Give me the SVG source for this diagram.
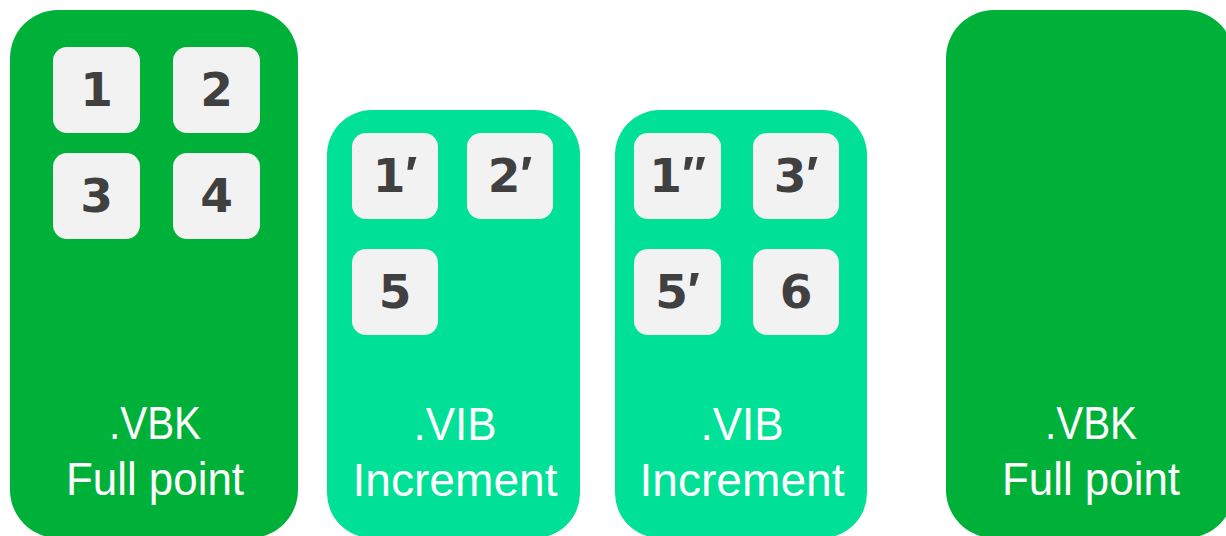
<svg xmlns="http://www.w3.org/2000/svg" width="1226" height="536" viewBox="0 0 1226 536">
<style>
.full{fill:#00B139}
.inc{fill:#00E096}
.cell{fill:#F2F2F2}
.num{font-family:"DejaVu Sans","Liberation Sans",sans-serif;font-weight:bold;font-size:47px;fill:#404040;text-anchor:middle}
.pr{font-family:"Liberation Sans",Arial,sans-serif;font-size:50px}
.lbl{font-family:"Liberation Sans",Arial,sans-serif;font-size:47px;fill:#FFFFFF;text-anchor:middle}
</style>
<rect width="1226" height="536" fill="#FFFFFF"/>
<g id="vbk1">
<rect class="full" x="10" y="10" width="288" height="528" rx="48" ry="48"/>
<rect class="cell" x="53" y="47" width="87" height="86" rx="14"/>
<text class="num" x="96.5" y="106">1</text>
<rect class="cell" x="173" y="47" width="87" height="86" rx="14"/>
<text class="num" x="216.5" y="106">2</text>
<rect class="cell" x="53" y="153" width="87" height="86" rx="14"/>
<text class="num" x="96.5" y="212">3</text>
<rect class="cell" x="173" y="153" width="87" height="86" rx="14"/>
<text class="num" x="216.5" y="212">4</text>
<text class="lbl" x="155" y="439" textLength="92" lengthAdjust="spacingAndGlyphs">.VBK</text>
<text class="lbl" x="155" y="495" textLength="178" lengthAdjust="spacingAndGlyphs">Full point</text>
</g>
<g id="vib1">
<rect class="inc" x="327" y="110" width="253" height="428" rx="45" ry="45"/>
<rect class="cell" x="352" y="133" width="86" height="86" rx="14"/>
<text class="num" x="395" y="192">1<tspan class="pr">′</tspan></text>
<rect class="cell" x="467" y="133" width="86" height="86" rx="14"/>
<text class="num" x="510" y="192">2<tspan class="pr">′</tspan></text>
<rect class="cell" x="352" y="249" width="86" height="86" rx="14"/>
<text class="num" x="395" y="308">5</text>
<text class="lbl" x="455" y="440" textLength="83" lengthAdjust="spacingAndGlyphs">.VIB</text>
<text class="lbl" x="455" y="496" textLength="205" lengthAdjust="spacingAndGlyphs">Increment</text>
</g>
<g id="vib2">
<rect class="inc" x="615" y="110" width="252" height="428" rx="45" ry="45"/>
<rect class="cell" x="634" y="133" width="87" height="86" rx="14"/>
<text class="num" x="677.5" y="192">1<tspan class="pr">″</tspan></text>
<rect class="cell" x="753" y="133" width="86" height="86" rx="14"/>
<text class="num" x="796" y="192">3<tspan class="pr">′</tspan></text>
<rect class="cell" x="634" y="249" width="87" height="86" rx="14"/>
<text class="num" x="677.5" y="308">5<tspan class="pr">′</tspan></text>
<rect class="cell" x="753" y="249" width="86" height="86" rx="14"/>
<text class="num" x="796" y="308">6</text>
<text class="lbl" x="742" y="440" textLength="83" lengthAdjust="spacingAndGlyphs">.VIB</text>
<text class="lbl" x="742" y="496" textLength="205" lengthAdjust="spacingAndGlyphs">Increment</text>
</g>
<g id="vbk2">
<rect class="full" x="946" y="10" width="288" height="528" rx="48" ry="48"/>
<text class="lbl" x="1091" y="439" textLength="92" lengthAdjust="spacingAndGlyphs">.VBK</text>
<text class="lbl" x="1091" y="495" textLength="178" lengthAdjust="spacingAndGlyphs">Full point</text>
</g>
<g id="connectors"/>
</svg>
